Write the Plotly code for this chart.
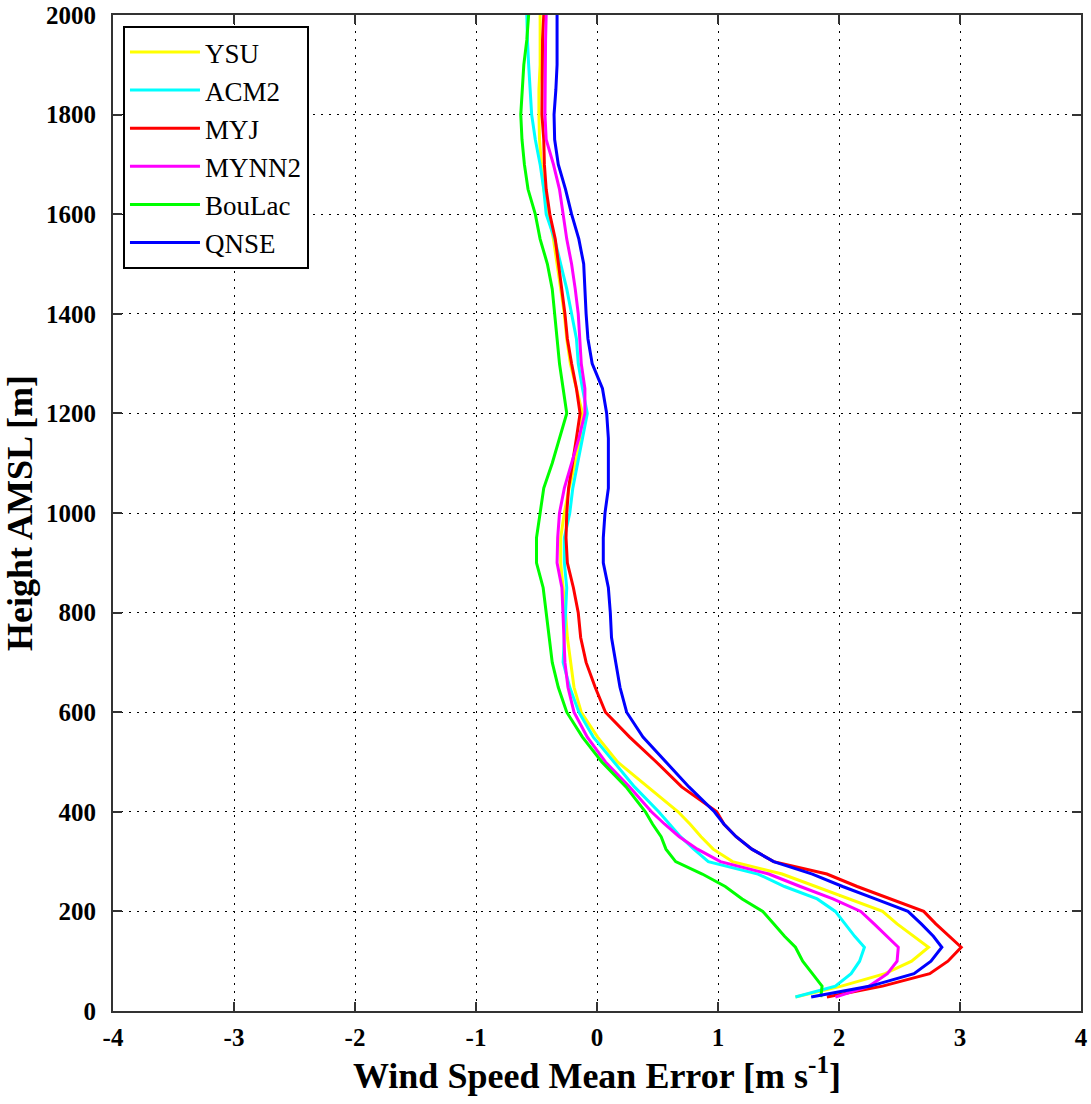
import plotly.graph_objects as go

# Heights (m AMSL) at which each scheme's mean wind-speed error is given
heights = [28, 50, 75, 100, 128, 150, 175, 200, 225, 250, 275, 300, 325, 350,
           375, 400, 450, 500, 550, 600, 650, 700, 750, 800, 850, 900, 950,
           1000, 1050, 1100, 1150, 1200, 1250, 1300, 1350, 1400, 1450, 1500,
           1550, 1600, 1650, 1700, 1750, 1800, 1850, 1900, 1950, 2000]

ysu = [1.64, 2.02, 2.38, 2.60, 2.74, 2.62, 2.48, 2.36, 2.08, 1.80, 1.53, 1.12,
       0.96, 0.86, 0.77, 0.67, 0.42, 0.17, 0.005, -0.13, -0.19, -0.22, -0.245,
       -0.26, -0.28, -0.30, -0.30, -0.27, -0.23, -0.18, -0.14, -0.12, -0.17,
       -0.22, -0.25, -0.27, -0.30, -0.33, -0.36, -0.40, -0.44, -0.46, -0.475,
       -0.48, -0.48, -0.47, -0.47, -0.47]

acm2 = [1.64, 1.97, 2.10, 2.17, 2.21, 2.13, 2.05, 1.97, 1.82, 1.55, 1.33, 0.92,
        0.80, 0.69, 0.60, 0.51, 0.31, 0.14, -0.03, -0.15, -0.225, -0.28, -0.27,
        -0.255, -0.25, -0.27, -0.27, -0.225, -0.20, -0.16, -0.12, -0.08, -0.12,
        -0.155, -0.17, -0.21, -0.25, -0.30, -0.35, -0.42, -0.44, -0.47, -0.51,
        -0.54, -0.555, -0.565, -0.575, -0.58]

myj = [1.90, 2.36, 2.75, 2.90, 3.01, 2.91, 2.80, 2.70, 2.42, 2.15, 1.90, 1.46,
       1.28, 1.15, 1.05, 0.99, 0.70, 0.49, 0.27, 0.07, -0.015, -0.09, -0.135,
       -0.155, -0.195, -0.245, -0.256, -0.25, -0.235, -0.20, -0.17, -0.14,
       -0.17, -0.21, -0.245, -0.265, -0.29, -0.32, -0.345, -0.39, -0.42,
       -0.435, -0.44, -0.455, -0.455, -0.455, -0.45, -0.44]

mynn2 = [1.97, 2.25, 2.40, 2.48, 2.49, 2.40, 2.29, 2.18, 1.95, 1.68, 1.42, 1.02,
         0.83, 0.68, 0.56, 0.45, 0.27, 0.07, -0.08, -0.19, -0.24, -0.265,
         -0.275, -0.285, -0.29, -0.33, -0.325, -0.31, -0.27, -0.21, -0.15,
         -0.10, -0.10, -0.13, -0.145, -0.155, -0.18, -0.21, -0.25, -0.28,
         -0.31, -0.36, -0.42, -0.43, -0.43, -0.43, -0.425, -0.42]

boulac = [1.85, 1.86, 1.78, 1.70, 1.64, 1.55, 1.46, 1.37, 1.20, 1.06, 0.87,
          0.65, 0.57, 0.53, 0.46, 0.40, 0.24, 0.04, -0.12, -0.25, -0.32, -0.37,
          -0.395, -0.42, -0.445, -0.50, -0.50, -0.47, -0.44, -0.37, -0.31,
          -0.25, -0.28, -0.31, -0.33, -0.35, -0.37, -0.41, -0.47, -0.51, -0.57,
          -0.60, -0.62, -0.63, -0.62, -0.605, -0.58, -0.565]

qnse = [1.77, 2.26, 2.62, 2.76, 2.85, 2.78, 2.68, 2.57, 2.30, 2.03, 1.78, 1.46,
        1.28, 1.15, 1.05, 0.97, 0.76, 0.57, 0.38, 0.245, 0.19, 0.155, 0.12,
        0.11, 0.094, 0.052, 0.052, 0.066, 0.094, 0.094, 0.094, 0.08, 0.045,
        -0.04, -0.075, -0.09, -0.10, -0.11, -0.15, -0.21, -0.26, -0.32, -0.35,
        -0.355, -0.34, -0.33, -0.33, -0.33]

schemes = ["YSU", "ACM2", "MYJ", "MYNN2", "BouLac", "QNSE"]
series = [ysu, acm2, myj, mynn2, boulac, qnse]
colors = ["#FFFF00", "#00FFFF", "#FF0000", "#FF00FF", "#00FF00", "#0000FF"]

x_ticks = [-4, -3, -2, -1, 0, 1, 2, 3, 4]
x_tick_labels = ["-4", "-3", "-2", "-1", "0", "1", "2", "3", "4"]
y_ticks = [0, 200, 400, 600, 800, 1000, 1200, 1400, 1600, 1800, 2000]

serif = "Liberation Serif, Times New Roman, serif"
axis_color = "#333333"

fig = go.Figure()
for name, vals, col in zip(schemes, series, colors):
    fig.add_trace(go.Scatter(
        x=vals, y=heights, mode="lines", name=name,
        line=dict(color=col, width=3),
    ))

axis_common = dict(
    showline=True, linecolor=axis_color, linewidth=2, mirror="ticks",
    ticks="inside", ticklen=9, tickwidth=2, tickcolor=axis_color,
    showgrid=True, gridcolor="#000000", gridwidth=1, griddash="2px,6px",
    zeroline=False, automargin=False,
    tickfont=dict(family=serif, size=25, color="#000000", weight="bold"),
)

fig.update_xaxes(
    range=[-4, 4], tickvals=x_ticks, ticktext=x_tick_labels,
    ticklabelstandoff=3,
    title=dict(text="<b>Wind Speed Mean Error [m s<sup>-1</sup>]</b>",
               font=dict(family=serif, size=36, color="#000000"),
               standoff=8),
    **axis_common,
)
fig.update_yaxes(
    range=[0, 2000], tickvals=y_ticks,
    ticklabelstandoff=10,
    title=dict(text="<b>Height AMSL [m]</b>",
               font=dict(family=serif, size=36, color="#000000"),
               standoff=6),
    **axis_common,
)

fig.update_layout(
    width=1091, height=1104,
    margin=dict(l=113, r=10, t=15, b=93),
    paper_bgcolor="white", plot_bgcolor="white",
    showlegend=True,
    legend=dict(
        x=0.0103, y=0.989, xanchor="left", yanchor="top",
        bgcolor="white", bordercolor="#000000", borderwidth=2,
        font=dict(family=serif, size=27, color="#000000"),
        itemwidth=70, tracegroupgap=0,
    ),
)

fig.write_html("out.html")
